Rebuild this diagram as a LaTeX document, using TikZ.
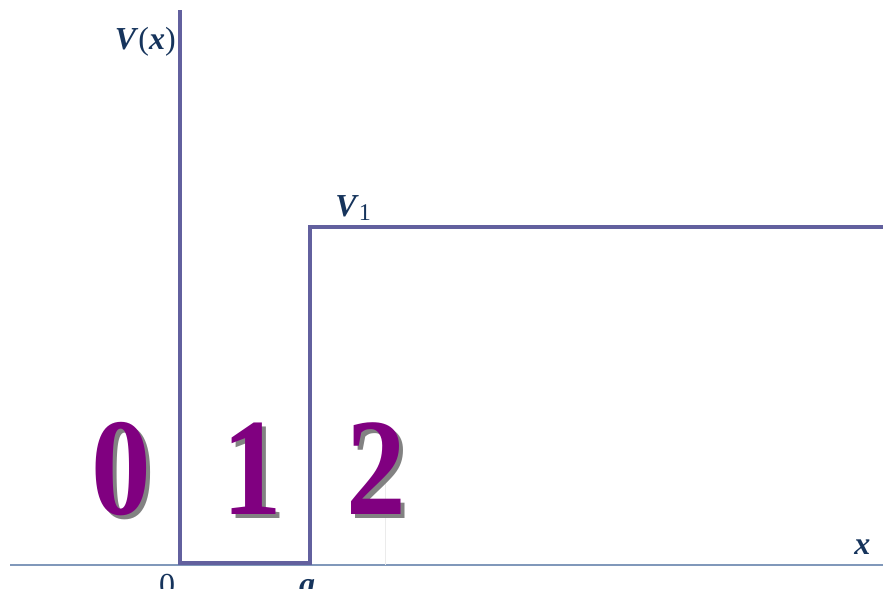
\documentclass[tikz,border=0pt]{standalone}
\usepackage{fontspec}
\usepackage{graphicx}
\setmainfont{Liberation Serif}
\definecolor{wellblue}{RGB}{98,96,158}
\definecolor{axisblue}{RGB}{128,152,186}
\definecolor{labelnavy}{RGB}{22,52,92}
\definecolor{regionpurple}{RGB}{128,0,128}
\definecolor{shadowgray}{RGB}{130,130,130}
\tikzset{
    potential/.style={line width=2.4pt, wellblue, line join=miter},
    axisline/.style={line width=1.4pt, axisblue},
    axislabel/.style={inner sep=0pt, text=labelnavy, font=\fontsize{24}{28}\selectfont},
    regionnum/.style={inner sep=0pt, anchor=base, font=\fontsize{104}{112}\selectfont\bfseries}
}
\newcommand{\narrowdigit}[1]{\scalebox{0.86}[1]{#1}}
\begin{document}
\begin{tikzpicture}[x=0.75pt, y=-0.75pt]
    \useasboundingbox (0,0) rectangle (883,589);
    \clip (0,0) rectangle (883,589);

    %x axis
    \coordinate (axisstart) at (10,565);
    \coordinate (axisend) at (883,565);
    \draw[axisline] (axisstart) -- (axisend);

    %faint mark
    \draw[line width=0.5pt, black!8] (385,455) -- (385,565);

    %Outline of the potential V(x)
    \coordinate (walltop) at (180,10);
    \coordinate (wellleft) at (180,563);
    \coordinate (wellright) at (310,563);
    \coordinate (stepcorner) at (310,227);
    \coordinate (stepend) at (885,227);
    \draw[potential] (walltop) -- (wellleft) -- (wellright) -- (stepcorner) -- (stepend);

    %Region numbers with shadow
    \foreach \d/\xp in {0/121, 1/252, 2/376} {
        \node[regionnum, text=shadowgray] (shadow\d) at (\xp+4,518) {\narrowdigit{\d}};
        \node[regionnum, text=regionpurple] (region\d) at (\xp,514) {\narrowdigit{\d}};
    }

    %Labels
    \node[axislabel, anchor=base east] (vlabel) at (176,50) {\textbf{\textit{V}}(\textbf{\textit{x}})};
    \node[axislabel, anchor=base west] (v1label) at (335,216) {\textbf{\textit{V}}\textsubscript{\fontsize{18}{20}\selectfont 1}};
    \node[axislabel, anchor=base west] (xlabel) at (854,554) {\textbf{\textit{x}}};
    \node[axislabel, anchor=base] (zerolabel) at (167,595) {0};
    \node[axislabel, anchor=base] (alabel) at (307,594) {\textbf{\textit{a}}};

\end{tikzpicture}
\end{document}
